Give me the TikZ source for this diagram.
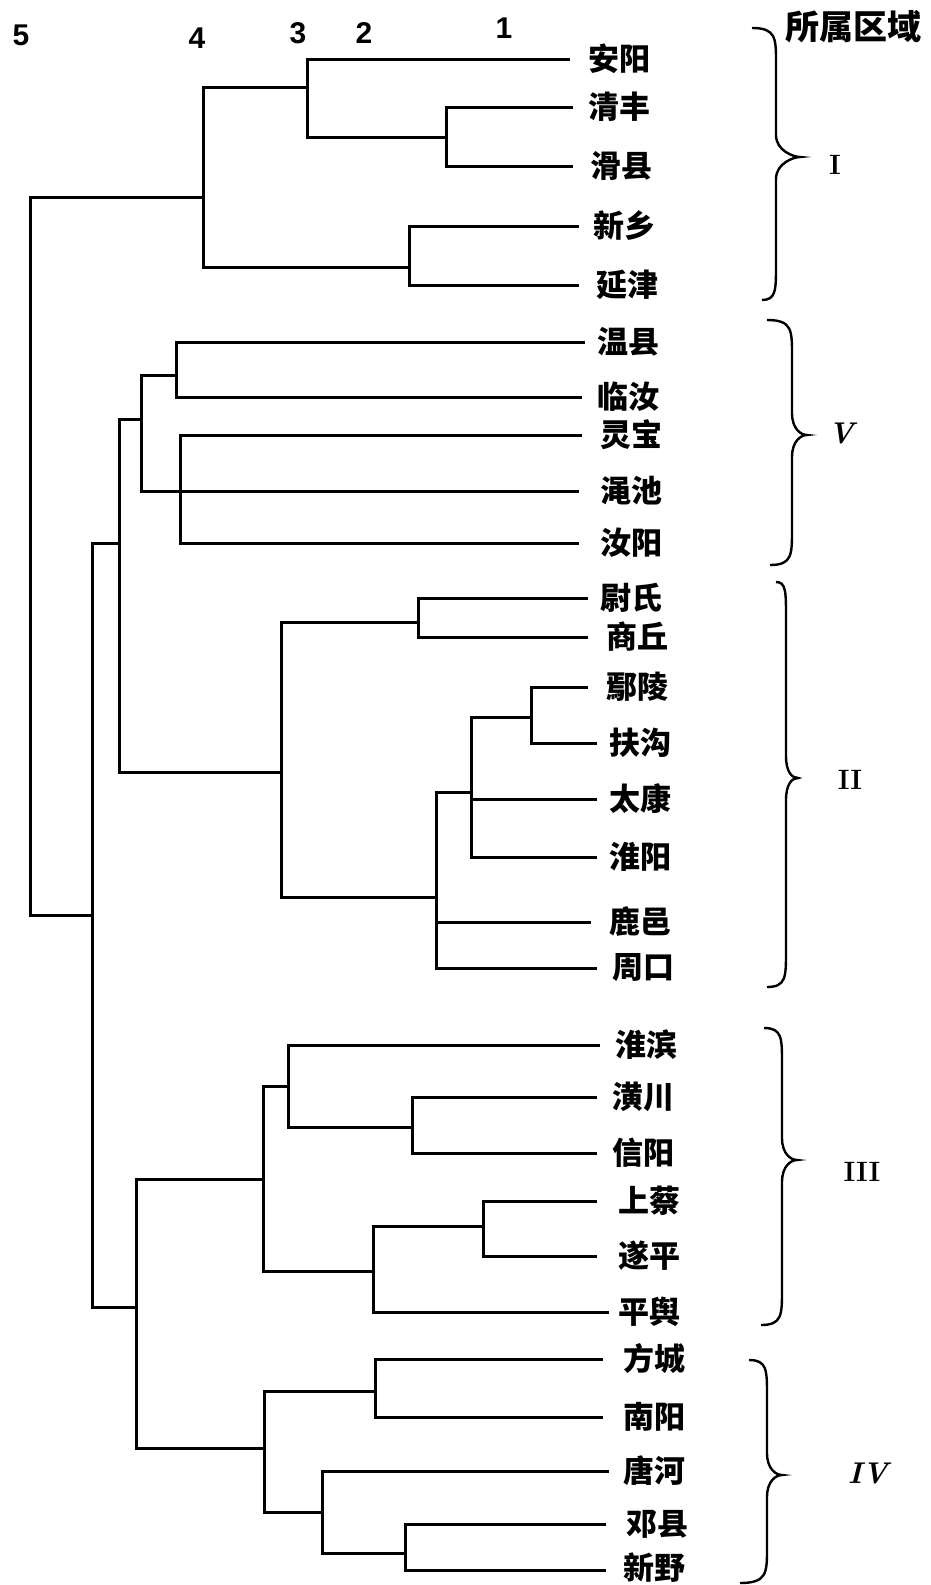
\documentclass[tikz,border=0pt]{standalone}
\usepackage{fontspec}
\newfontfamily\cjk{Noto Sans CJK SC}
\newfontfamily\numf{Liberation Sans}
\newcommand\mybrace[7]{%
  \draw[bracestyle] (#1,#2) .. controls ({#3},{#2}) and ({#3},{#2+10}) .. ({#3},{#2+35})
    -- ({#3},{#5-22}) .. controls ({#3},{#5-6}) and ({#4-6},{#5}) .. (#4,#5)
    .. controls ({#4-6},{#5}) and ({#3},{#5+6}) .. ({#3},{#5+22})
    -- ({#3},{#7-35}) .. controls ({#3},{#7-10}) and ({#3},{#7}) .. (#6,#7);}
\begin{document}
\begin{tikzpicture}[x=1pt,y=-1pt,
  br/.style={line width=3pt},
  bracestyle/.style={line width=2.4pt},
  lf/.style={anchor=west,inner sep=0pt,font=\cjk\bfseries\fontsize{31}{31}\selectfont},
  lvl/.style={inner sep=0pt,font=\numf\bfseries\fontsize{30}{30}\selectfont},
  rom/.style={inner sep=0pt,font=\bfseries\fontsize{28}{28}\selectfont},
  romi/.style={inner sep=0pt,font=\bfseries\itshape\fontsize{30}{30}\selectfont}]
\useasboundingbox (0,0) rectangle (931,1585);
% level numbers
\node[lvl] (n5) at (21,35) {5};
\node[lvl] (n4) at (197,38) {4};
\node[lvl] (n3) at (298,33) {3};
\node[lvl] (n2) at (364,33) {2};
\node[lvl] (n1) at (504,28) {1};
\node[inner sep=0pt,font=\cjk\bfseries\fontsize{34}{34}\selectfont] (hd) at (853,27) {所属区域};
% merge points
\coordinate (r) at (30,556);
\coordinate (a1) at (446,137);
\coordinate (a2) at (307,87);
\coordinate (a3) at (409,267);
\coordinate (a4) at (203,197);
\coordinate (b) at (92,915);
\coordinate (b2) at (119,543);
\coordinate (v1) at (176,375);
\coordinate (v2) at (141,419);
\coordinate (v3) at (180,491);
\coordinate (d1) at (418,622);
\coordinate (d2) at (531,717);
\coordinate (d3) at (471,792);
\coordinate (d4) at (436,897);
\coordinate (d5) at (281,772);
\coordinate (c) at (136,1307);
\coordinate (e1) at (412,1127);
\coordinate (e2) at (288,1086);
\coordinate (e3) at (483,1226);
\coordinate (e4) at (373,1271);
\coordinate (e5) at (263,1179);
\coordinate (f1) at (375,1391);
\coordinate (f2) at (405,1553);
\coordinate (f3) at (322,1512);
\coordinate (f4) at (264,1448);
% leaf ends and labels
\coordinate (l1) at (570,59);   \node[lf] (t1) at (588,59) {安阳};
\coordinate (l2) at (573,107);  \node[lf] (t2) at (588,107) {清丰};
\coordinate (l3) at (573,166);  \node[lf] (t3) at (590,166) {滑县};
\coordinate (l4) at (579,226);  \node[lf] (t4) at (593,226) {新乡};
\coordinate (l5) at (579,285);  \node[lf] (t5) at (596,285) {延津};
\coordinate (l6) at (585,342);  \node[lf] (t6) at (597,342) {温县};
\coordinate (l7) at (582,397);  \node[lf] (t7) at (597,397) {临汝};
\coordinate (l8) at (582,435);  \node[lf] (t8) at (600,435) {灵宝};
\coordinate (l9) at (579,491);  \node[lf] (t9) at (600,491) {渑池};
\coordinate (l10) at (579,543); \node[lf] (t10) at (600,543) {汝阳};
\coordinate (l11) at (588,598); \node[lf] (t11) at (600,598) {尉氏};
\coordinate (l12) at (588,637); \node[lf] (t12) at (606,637) {商丘};
\coordinate (l13) at (588,687); \node[lf] (t13) at (606,687) {鄢陵};
\coordinate (l14) at (597,743); \node[lf] (t14) at (609,743) {扶沟};
\coordinate (l15) at (597,799); \node[lf] (t15) at (609,799) {太康};
\coordinate (l16) at (597,857); \node[lf] (t16) at (609,857) {淮阳};
\coordinate (l17) at (591,922); \node[lf] (t17) at (609,922) {鹿邑};
\coordinate (l18) at (597,968); \node[lf] (t18) at (612,968) {周口};
\coordinate (l19) at (600,1045); \node[lf] (t19) at (615,1045) {淮滨};
\coordinate (l20) at (597,1097); \node[lf] (t20) at (612,1097) {潢川};
\coordinate (l21) at (597,1153); \node[lf] (t21) at (612,1153) {信阳};
\coordinate (l22) at (597,1201); \node[lf] (t22) at (618,1201) {上蔡};
\coordinate (l23) at (597,1256); \node[lf] (t23) at (618,1256) {遂平};
\coordinate (l24) at (609,1312); \node[lf] (t24) at (618,1312) {平舆};
\coordinate (l25) at (603,1359); \node[lf] (t25) at (623,1359) {方城};
\coordinate (l26) at (603,1417); \node[lf] (t26) at (623,1417) {南阳};
\coordinate (l27) at (609,1471); \node[lf] (t27) at (623,1471) {唐河};
\coordinate (l28) at (606,1524); \node[lf] (t28) at (626,1524) {邓县};
\coordinate (l29) at (606,1570); \node[lf] (t29) at (623,1568) {新野};
% cluster I
\draw[br] (l2) -| (a1);
\draw[br] (l3) -| (a1);
\draw[br] (l1) -| (a2);
\draw[br] (a1) -| (a2);
\draw[br] (l4) -| (a3);
\draw[br] (l5) -| (a3);
\draw[br] (a2) -| (a4);
\draw[br] (a3) -| (a4);
\draw[br] (a4) -| (r);
\draw[br] (b) -| (r);
% cluster V
\draw[br] (l6) -| (v1);
\draw[br] (l7) -| (v1);
\draw[br] (v1) -| (v2);
\draw[br] (l9) -| (v2);
\draw[br] (l8) -| (v3);
\draw[br] (l10) -| (v3);
\draw[br] (v2) -| (b2);
\draw[br] (d5) -| (b2);
\draw[br] (b2) -| (b);
\draw[br] (c) -| (b);
% cluster II
\draw[br] (l11) -| (d1);
\draw[br] (l12) -| (d1);
\draw[br] (l13) -| (d2);
\draw[br] (l14) -| (d2);
\draw[br] (d2) -| (d3);
\draw[br] (l15) -| (d3);
\draw[br] (l16) -| (d3);
\draw[br] (d3) -| (d4);
\draw[br] (l17) -| (d4);
\draw[br] (l18) -| (d4);
\draw[br] (d1) -| (d5);
\draw[br] (d4) -| (d5);
% cluster III
\draw[br] (l20) -| (e1);
\draw[br] (l21) -| (e1);
\draw[br] (l19) -| (e2);
\draw[br] (e1) -| (e2);
\draw[br] (l22) -| (e3);
\draw[br] (l23) -| (e3);
\draw[br] (e3) -| (e4);
\draw[br] (l24) -| (e4);
\draw[br] (e2) -| (e5);
\draw[br] (e4) -| (e5);
% cluster IV
\draw[br] (l25) -| (f1);
\draw[br] (l26) -| (f1);
\draw[br] (l28) -| (f2);
\draw[br] (l29) -| (f2);
\draw[br] (l27) -| (f3);
\draw[br] (f2) -| (f3);
\draw[br] (f1) -| (f4);
\draw[br] (f3) -| (f4);
\draw[br] (e5) -| (c);
\draw[br] (f4) -| (c);
% braces and region numerals
\mybrace{752}{28}{776}{800}{157}{762}{300}
\mybrace{767}{320}{792}{807}{435}{770}{565}
\mybrace{776}{582}{786}{798}{778}{767}{987}
\mybrace{764}{1028}{782}{797}{1160}{761}{1325}
\mybrace{749}{1360}{767}{782}{1475}{740}{1583}
\node[rom] (g1) at (835,165) {I};
\node[romi] (g5) at (841,433) {V};
\node[rom] (g2) at (850,780) {II};
\node[rom] (g3) at (862,1172) {III};
\node[romi] (g4) at (868,1473) {IV};
\end{tikzpicture}
\end{document}
